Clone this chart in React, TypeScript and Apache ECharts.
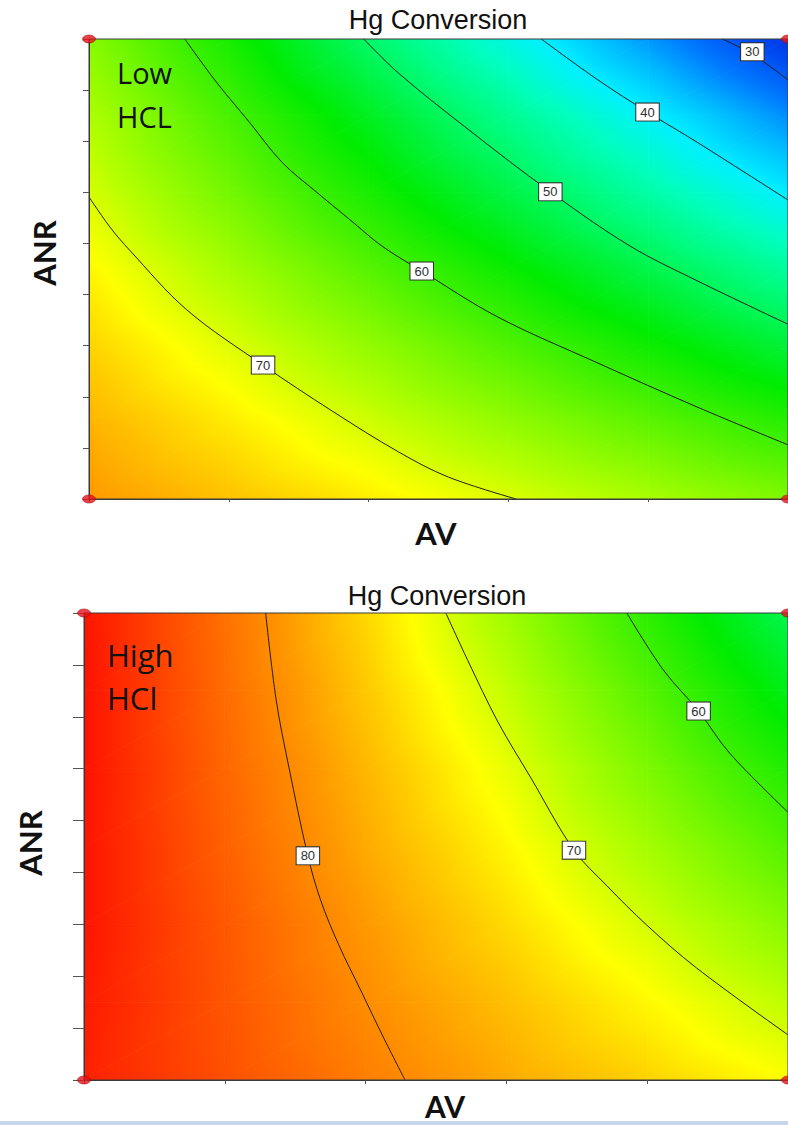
import React, { useEffect, useRef } from "react";
import * as echarts from "echarts";

// ---- grid nodes (AV across, ANR up) ----
const AV_NODES = [0, 20, 40, 60, 80, 100];
const ANR_NODES = [0, 15, 30, 45, 60, 75, 90];

// Hg Conversion read at the nodes, rows = ANR 0..90, columns = AV 0..100
const LOW_HCL_GRID = [
  [79.0, 76.0, 73.1, 70.2, 67.3, 64.5],
  [77.0, 73.3, 69.5, 65.8, 62.2, 58.6],
  [74.8, 70.3, 65.8, 61.3, 56.9, 52.5],
  [72.5, 67.1, 61.8, 56.6, 51.4, 46.2],
  [69.8, 63.7, 57.6, 51.6, 45.6, 39.7],
  [67.6, 60.8, 54.0, 47.0, 40.3, 33.3],
  [65.0, 57.5, 49.5, 41.8, 34.0, 26.0],
];
const HIGH_HCL_GRID = [
  [89.0, 85.1, 81.2, 77.8, 74.9, 72.0],
  [89.5, 84.7, 80.0, 76.2, 72.4, 68.5],
  [90.0, 84.4, 79.0, 74.3, 69.7, 65.0],
  [90.0, 83.7, 77.7, 72.5, 67.0, 61.5],
  [90.2, 83.2, 76.8, 70.8, 64.3, 58.1],
  [90.2, 82.7, 75.6, 68.8, 61.7, 54.6],
  [90.0, 82.3, 74.5, 66.7, 58.9, 51.2],
];

// contour lines [AV, ANR]
const LOW_C30 = [[90.6, 90], [94.9, 87.0], [100, 82.0]];
const LOW_C40 = [[64.7, 90], [72.8, 82.0], [79.9, 75.7], [87.0, 69.8], [100, 58.5]];
const LOW_C50 = [[39.3, 90], [44.3, 83.3], [53.8, 72.8], [66.0, 60.1], [77.4, 49.5], [87.0, 42.7], [100, 34.2]];
const LOW_C60 = [[13.7, 90], [18.2, 81.6], [22.9, 73.8], [27.6, 65.9], [32.5, 60.1], [37.2, 54.8], [41.9, 49.5], [47.6, 44.6], [58.5, 35.6], [72.8, 26.6], [87.0, 18.0], [100, 10.6]];
const LOW_C70 = [[0, 59.1], [3.0, 53.2], [5.8, 48.7], [14.0, 37.0], [24.9, 26.2], [34.8, 17.2], [44.3, 9.2], [51.4, 4.3], [61.1, 0]];

const HIGH_C80 = [[25.8, 90], [27.3, 73.2], [29.1, 60.3], [31.8, 43.2], [33.6, 34.7], [36.2, 26.0], [39.3, 17.3], [42.5, 8.3], [45.6, 0]];
const HIGH_C70 = [[51.4, 90], [54.5, 80.9], [58.8, 69.0], [63.4, 58.4], [69.6, 44.3], [74.3, 37.4], [79.9, 29.9], [87.0, 21.6], [100, 8.7]];
const HIGH_C60 = [[77.1, 90], [82.3, 79.0], [87.3, 71.1], [91.7, 63.0], [100, 51.6]];

// contour labels [AV, ANR, level]
const LOW_LABELS = [[94.9, 87.5, 30], [79.9, 75.7, 40], [66.0, 60.1, 50], [47.6, 44.6, 60], [24.9, 26.2, 70]];
const HIGH_LABELS = [[31.8, 43.2, 80], [69.6, 44.3, 70], [87.3, 71.1, 60]];

// design points
const DESIGN_POINTS = [[0, 0], [0, 90], [100, 0], [100, 90]];

// colour scale (value -> colour)
const SCALE_V = [24, 28, 32, 36, 40, 44, 48, 52, 56, 60, 64, 68, 72, 75, 79, 83, 87, 91];
const SCALE_C = ["#0028d8", "#0048f0", "#0078ff", "#00b8ff", "#00f0ff", "#00ffc0", "#00fc80", "#00f440", "#00ec00", "#3cf000", "#78f800", "#b4ff00", "#ffff00", "#ffd000", "#ff9800", "#ff6800", "#ff3800", "#ff0800"];

function hexToRgb(h: string) {
  const n = parseInt(h.slice(1), 16);
  return [(n >> 16) & 255, (n >> 8) & 255, n & 255];
}
const SCALE_RGB = SCALE_C.map(hexToRgb);
function rgbStr(c: number[]) {
  return `rgb(${Math.round(c[0])},${Math.round(c[1])},${Math.round(c[2])})`;
}
function colorAt(v: number) {
  if (v <= SCALE_V[0]) return rgbStr(SCALE_RGB[0]);
  for (let i = 1; i < SCALE_V.length; i++) {
    if (v <= SCALE_V[i]) {
      const t = (v - SCALE_V[i - 1]) / (SCALE_V[i] - SCALE_V[i - 1]);
      const a = SCALE_RGB[i - 1];
      const b = SCALE_RGB[i];
      return rgbStr([a[0] + (b[0] - a[0]) * t, a[1] + (b[1] - a[1]) * t, a[2] + (b[2] - a[2]) * t]);
    }
  }
  return rgbStr(SCALE_RGB[SCALE_RGB.length - 1]);
}

function buildCells(grid: number[][]) {
  const cells: number[][] = [];
  for (let j = 0; j < ANR_NODES.length - 1; j++) {
    for (let i = 0; i < AV_NODES.length - 1; i++) {
      cells.push([
        AV_NODES[i], AV_NODES[i + 1], ANR_NODES[j], ANR_NODES[j + 1],
        grid[j][i], grid[j][i + 1], grid[j + 1][i], grid[j + 1][i + 1],
      ]);
    }
  }
  return cells;
}

function makeFill(pts: number[][], vals: number[]) {
  const [p0, p1, p2] = pts;
  const [v0, v1, v2] = vals;
  const d1x = p1[0] - p0[0], d1y = p1[1] - p0[1];
  const d2x = p2[0] - p0[0], d2y = p2[1] - p0[1];
  const det = d1x * d2y - d1y * d2x;
  const dv1 = v1 - v0, dv2 = v2 - v0;
  const a = (dv1 * d2y - dv2 * d1y) / det;
  const b = (d1x * dv2 - d2x * dv1) / det;
  const g2 = a * a + b * b;
  const vmin = Math.min(v0, v1, v2);
  const vmax = Math.max(v0, v1, v2);
  if (!isFinite(g2) || g2 < 1e-12 || vmax - vmin < 1e-6) return colorAt(v0);
  const s = pts[vals.indexOf(vmin)];
  const t = (vmax - vmin) / g2;
  const e = [s[0] + a * t, s[1] + b * t];
  const stops: { offset: number; color: string }[] = [{ offset: 0, color: colorAt(vmin) }];
  for (const sv of SCALE_V) {
    if (sv > vmin && sv < vmax) stops.push({ offset: (sv - vmin) / (vmax - vmin), color: colorAt(sv) });
  }
  stops.push({ offset: 1, color: colorAt(vmax) });
  return new echarts.graphic.LinearGradient(s[0], s[1], e[0], e[1], stops, true);
}

function tri(pts: number[][], vals: number[]) {
  return {
    type: "polygon",
    shape: { points: pts },
    style: { fill: makeFill(pts, vals), stroke: makeFill(pts, vals), lineWidth: 0.8 },
    silent: true,
  };
}

function renderCell(_params: any, api: any) {
  const x0 = api.value(0), x1 = api.value(1), y0 = api.value(2), y1 = api.value(3);
  const v00 = api.value(4), v10 = api.value(5), v01 = api.value(6), v11 = api.value(7);
  const p00 = api.coord([x0, y0]);
  const p10 = api.coord([x1, y0]);
  const p01 = api.coord([x0, y1]);
  const p11 = api.coord([x1, y1]);
  return {
    type: "group",
    children: [tri([p00, p10, p11], [v00, v10, v11]), tri([p00, p11, p01], [v00, v11, v01])],
  };
}

const LABEL_FONT = '"Liberation Sans", Arial, sans-serif';

function fieldSeries(grid: number[][], idx: number) {
  return {
    type: "custom",
    xAxisIndex: idx,
    yAxisIndex: idx,
    data: buildCells(grid),
    renderItem: renderCell,
    clip: true,
    silent: true,
    z: 1,
  };
}
function contourSeries(data: number[][], idx: number) {
  return {
    type: "line",
    xAxisIndex: idx,
    yAxisIndex: idx,
    data,
    smooth: 0.35,
    symbol: "none",
    lineStyle: { color: "#1e1e1e", width: 1 },
    clip: true,
    silent: true,
    z: 4,
  };
}
function labelSeries(data: number[][], idx: number) {
  return {
    type: "scatter",
    xAxisIndex: idx,
    yAxisIndex: idx,
    data,
    symbol: "rect",
    symbolSize: 0,
    itemStyle: { color: "#000000", opacity: 1 },
    label: {
      show: true,
      position: "inside",
      formatter: (p: any) => String(p.value[2]),
      backgroundColor: "#ffffff",
      borderColor: "#2e2e2e",
      borderWidth: 1,
      padding: [2, 4, 1, 4],
      fontSize: 13,
      lineHeight: 14,
      fontFamily: LABEL_FONT,
      color: "#2e2e2e",
      opacity: 1,
    },
    silent: true,
    z: 8,
  };
}
function pointSeries(idx: number) {
  return {
    type: "scatter",
    xAxisIndex: idx,
    yAxisIndex: idx,
    data: DESIGN_POINTS,
    symbol: "circle",
    symbolSize: [13, 8],
    itemStyle: { color: "#e3141b", borderColor: "#9a0000", borderWidth: 0.6 },
    clip: false,
    silent: true,
    z: 12,
  };
}

function textEl(text: string, x: number, y: number, font: string, rotation = 0, align = "center") {
  return {
    type: "text",
    x,
    y,
    rotation,
    z: 20,
    silent: true,
    style: { text, font, fill: "#111111", align, verticalAlign: "middle", textAlign: align, textVerticalAlign: "middle" },
  };
}

export default function App() {
  const ref = useRef<HTMLDivElement>(null);
  useEffect(() => {
    if (!ref.current) return;
    const chart = echarts.init(ref.current, null, { renderer: "svg" });
    const axisX = (i: number) => ({
      gridIndex: i,
      type: "value",
      min: 0,
      max: 100,
      interval: 20,
      axisLine: { show: true, onZero: false, lineStyle: { color: "#3a3a3a", width: 1 } },
      axisTick: { show: true, length: i === 0 ? 3 : 4, lineStyle: { color: "#555555" } },
      axisLabel: { show: false },
      splitLine: { show: false },
      z: 10,
    });
    const axisY = (i: number) => ({
      gridIndex: i,
      type: "value",
      min: 0,
      max: 90,
      interval: 10,
      axisLine: { show: true, onZero: false, lineStyle: { color: "#3a3a3a", width: 1 } },
      axisTick: { show: true, length: i === 0 ? 6 : 11, lineStyle: { color: "#555555" } },
      axisLabel: { show: false },
      splitLine: { show: false },
      z: 10,
    });
    chart.setOption({
      animation: false,
      backgroundColor: "#ffffff",
      grid: [
        { left: 89, top: 39, width: 702, height: 460, show: true, borderColor: "#3a3a3a", borderWidth: 1, backgroundColor: "transparent", z: 10 },
        { left: 84, top: 613, width: 708, height: 467, show: true, borderColor: "#3a3a3a", borderWidth: 1, backgroundColor: "transparent", z: 10 },
      ],
      xAxis: [axisX(0), axisX(1)],
      yAxis: [axisY(0), axisY(1)],
      series: [
        fieldSeries(LOW_HCL_GRID, 0),
        contourSeries(LOW_C30, 0),
        contourSeries(LOW_C40, 0),
        contourSeries(LOW_C50, 0),
        contourSeries(LOW_C60, 0),
        contourSeries(LOW_C70, 0),
        labelSeries(LOW_LABELS, 0),
        pointSeries(0),
        fieldSeries(HIGH_HCL_GRID, 1),
        contourSeries(HIGH_C80, 1),
        contourSeries(HIGH_C70, 1),
        contourSeries(HIGH_C60, 1),
        labelSeries(HIGH_LABELS, 1),
        pointSeries(1),
      ],
      graphic: [
        { type: "rect", shape: { x: 0, y: 1121, width: 788, height: 4 }, style: { fill: "#c7d6eb" }, z: 0, silent: true },
        textEl("Hg Conversion", 438, 20, '27px "Liberation Sans", Arial, sans-serif'),
        textEl("Hg Conversion", 437, 596, '27px "Liberation Sans", Arial, sans-serif'),
        textEl("Low", 117, 72, '29px "Open Sans", sans-serif', 0, "left"),
        textEl("HCL", 117, 116, '29px "Open Sans", sans-serif', 0, "left"),
        textEl("High", 107, 655, '31px "Open Sans", sans-serif', 0, "left"),
        textEl("HCl", 107, 698, '31px "Open Sans", sans-serif', 0, "left"),
        textEl("ANR", 44, 253, 'bold 31px Lato, sans-serif', Math.PI / 2),
        textEl("ANR", 30, 843, 'bold 31px Lato, sans-serif', Math.PI / 2),
        textEl("AV", 436, 533, 'bold 31px Lato, sans-serif'),
        textEl("AV", 445, 1106, 'bold 30px Lato, sans-serif'),
      ],
    });
    return () => chart.dispose();
  }, []);
  return <div ref={ref} style={{ position: "absolute", left: 0, top: 0, width: 788, height: 1125, background: "#fff" }} />;
}
